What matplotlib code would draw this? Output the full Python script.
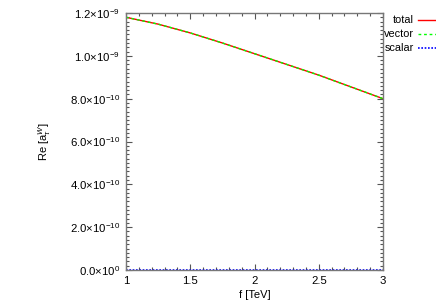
import matplotlib
matplotlib.use("Agg")
import matplotlib.pyplot as plt
from matplotlib.lines import Line2D
from matplotlib.ticker import FixedLocator, FuncFormatter

plt.rcParams["font.family"] = ["Liberation Sans", "DejaVu Sans"]
plt.rcParams["mathtext.fontset"] = "custom"
plt.rcParams["mathtext.rm"] = "Liberation Sans"
plt.rcParams["mathtext.it"] = "Liberation Sans:italic"

# values (f in TeV, Re[a] in units of 1e-9)
f_tev = [1.0, 1.25, 1.5, 1.75, 2.0, 2.25, 2.5, 2.75, 3.0]
total = [1.180, 1.148, 1.107, 1.060, 1.010, 0.960, 0.910, 0.855, 0.800]
vector = [1.180, 1.148, 1.107, 1.060, 1.010, 0.960, 0.910, 0.855, 0.800]
scalar = [0.0, 0.0, 0.0, 0.0, 0.0, 0.0, 0.0, 0.0, 0.0]
labels = ["total", "vector", "scalar"]

x_ticks = [1.0, 1.5, 2.0, 2.5, 3.0]
y_ticks = [0.0, 0.2e-9, 0.4e-9, 0.6e-9, 0.8e-9, 1.0e-9, 1.2e-9]
y_tick_labels = [r"0.0$\times$10$^{0}$", r"2.0$\times$10$^{-10}$", r"4.0$\times$10$^{-10}$",
                 r"6.0$\times$10$^{-10}$", r"8.0$\times$10$^{-10}$", r"1.0$\times$10$^{-9}$",
                 r"1.2$\times$10$^{-9}$"]

W, H = 436, 305
fig = plt.figure(figsize=(W / 100, H / 100), dpi=100)
ax = fig.add_axes([126 / W, 35 / H, 257 / W, 257 / H])

scale = 1e-9
styles = [
    dict(color="#ff0000", lw=1.0, ls="-"),
    dict(color="#00ff00", lw=1.0, ls=(0, (2, 2))),
    dict(color="#0000ff", lw=1.2, ls=(0, (1, 1))),
]
for series, st in zip([total, vector, scalar], styles):
    ax.plot(f_tev, [v * scale for v in series], **st)

ax.set_xlim(1, 3)
ax.set_ylim(0, 1.2e-9)
ax.xaxis.set_major_locator(FixedLocator(x_ticks))
ax.xaxis.set_minor_locator(FixedLocator([1 + 0.1 * i for i in range(21)]))
ax.yaxis.set_major_locator(FixedLocator(y_ticks))
ax.yaxis.set_minor_locator(FixedLocator([2e-11 * i for i in range(61)]))
ax.yaxis.set_major_formatter(FuncFormatter(lambda v, p: y_tick_labels[p]))
ax.xaxis.set_major_formatter(FuncFormatter(lambda v, p: "%g" % x_ticks[p]))

ax.tick_params(which="both", direction="in", top=True, right=True, labelsize=8.2,
               color="#555555", width=0.8)
ax.tick_params(which="major", length=4.5, pad=4)
ax.tick_params(which="minor", length=2.5)
for s in ax.spines.values():
    s.set_color("#777777")
    s.set_linewidth(1.0)

ax.set_xlabel("f [TeV]", fontsize=8, labelpad=3)
ax.set_ylabel(r"Re [a$_{\tau}^{W}$]", fontsize=8, labelpad=12)

# gnuplot-style key: right-aligned text, sample line to the right
for i, (lab, st) in enumerate(zip(labels, styles)):
    y = 1 - (20 + 14 * i) / H
    fig.text(414 / W, y, lab, ha="right", va="center", fontsize=7.8)
    fig.add_artist(Line2D([418 / W, 1.02], [y, y], transform=fig.transFigure, **st))

fig.savefig("out.png", dpi=100)
